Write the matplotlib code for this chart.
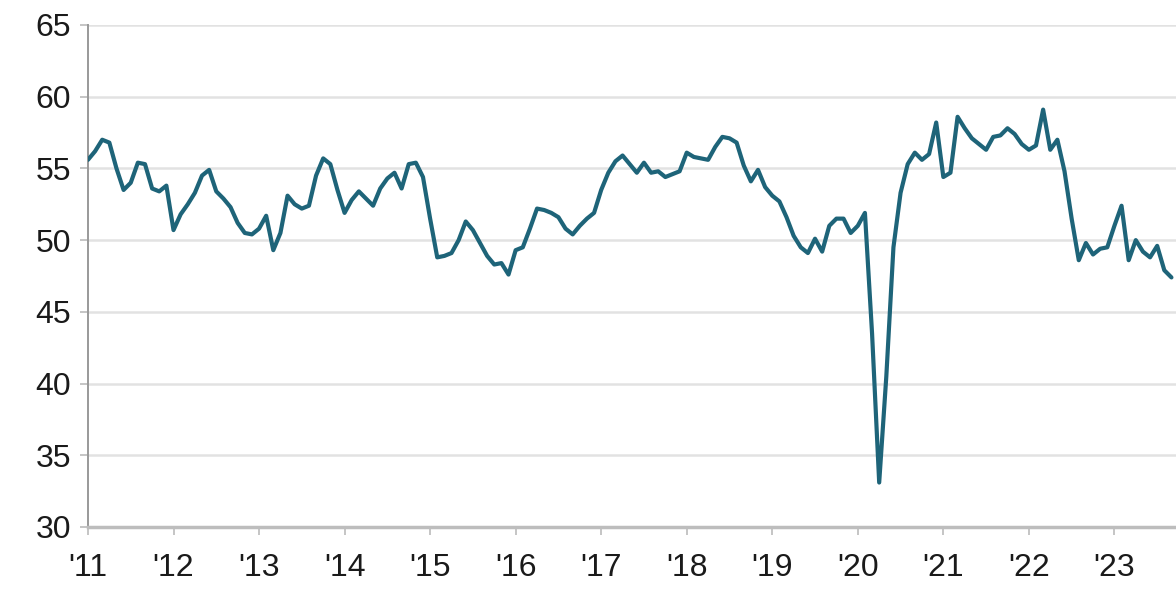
import matplotlib
matplotlib.use('Agg')
import matplotlib.pyplot as plt

# monthly index values, Jan 2011 - Sep 2023
start_year = 2011
values = [
    # 2011
    55.6, 56.2, 57.0, 56.8, 55.0, 53.5, 54.0, 55.4, 55.3, 53.6, 53.4, 53.8,
    # 2012
    50.7, 51.8, 52.5, 53.3, 54.5, 54.9, 53.4, 52.9, 52.3, 51.2, 50.5, 50.4,
    # 2013
    50.8, 51.7, 49.3, 50.5, 53.1, 52.5, 52.2, 52.4, 54.5, 55.7, 55.3, 53.5,
    # 2014
    51.9, 52.8, 53.4, 52.9, 52.4, 53.6, 54.3, 54.7, 53.6, 55.3, 55.4, 54.4,
    # 2015
    51.5, 48.8, 48.9, 49.1, 50.0, 51.3, 50.7, 49.8, 48.9, 48.3, 48.4, 47.6,
    # 2016
    49.3, 49.5, 50.8, 52.2, 52.1, 51.9, 51.6, 50.8, 50.4, 51.0, 51.5, 51.9,
    # 2017
    53.5, 54.7, 55.5, 55.9, 55.3, 54.7, 55.4, 54.7, 54.8, 54.4, 54.6, 54.8,
    # 2018
    56.1, 55.8, 55.7, 55.6, 56.5, 57.2, 57.1, 56.8, 55.2, 54.1, 54.9, 53.7,
    # 2019
    53.1, 52.7, 51.6, 50.3, 49.5, 49.1, 50.1, 49.2, 51.0, 51.5, 51.5, 50.5,
    # 2020
    51.0, 51.9, 43.5, 33.1, 40.5, 49.5, 53.3, 55.3, 56.1, 55.6, 56.0, 58.2,
    # 2021
    54.4, 54.7, 58.6, 57.8, 57.1, 56.7, 56.3, 57.2, 57.3, 57.8, 57.4, 56.7,
    # 2022
    56.3, 56.6, 59.1, 56.3, 57.0, 54.8, 51.5, 48.6, 49.8, 49.0, 49.4, 49.5,
    # 2023
    51.0, 52.4, 48.6, 50.0, 49.2, 48.8, 49.6, 47.9, 47.4,
]
years = list(range(2011, 2024))
year_labels = ["'" + str(y)[2:] for y in years]
y_ticks = [30, 35, 40, 45, 50, 55, 60, 65]

x = [start_year + i / 12 for i in range(len(values))]

plt.rcParams['font.family'] = ['Liberation Sans', 'DejaVu Sans']

fig = plt.figure(figsize=(11.76, 5.91), dpi=100)
ax = fig.add_axes([0.0748, 0.1083, 0.9252, 0.8494])

ax.plot(x, values, color='#1e6479', linewidth=3.0, solid_joinstyle='round',
        solid_capstyle='round', zorder=3)

ax.set_xlim(2011, 2023.72)
ax.set_ylim(30, 65)
ax.set_yticks(y_ticks)
ax.set_xticks(years)
ax.set_xticklabels(year_labels)

# light horizontal grid, no vertical grid
ax.yaxis.grid(True, color='#e2e2e2', linewidth=1.8)
ax.set_axisbelow(True)

ax.spines['right'].set_visible(False)
ax.spines['top'].set_visible(False)
ax.spines['left'].set_color('#999999')
ax.spines['left'].set_linewidth(1.4)
ax.spines['bottom'].set_color('#bdbdbd')
ax.spines['bottom'].set_linewidth(2.5)

ax.tick_params(axis='both', labelsize=23, colors='#bbbbbb', labelcolor='#1a1a1a')
ax.tick_params(axis='x', length=6, width=1.2, pad=13)
ax.tick_params(axis='y', length=6, width=1.2, pad=6)

fig.savefig('out.png', dpi=100)
